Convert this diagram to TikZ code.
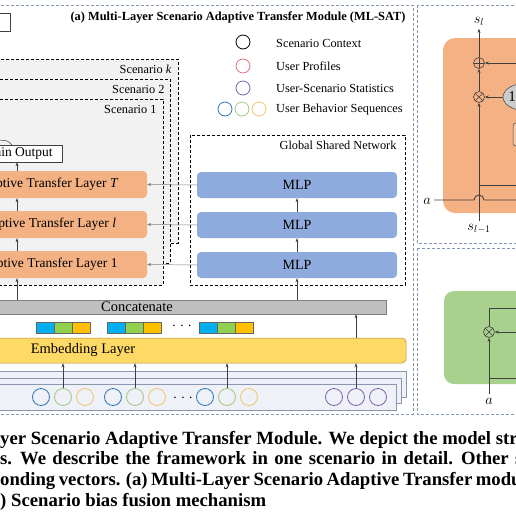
\documentclass[tikz,border=0pt]{standalone}
\usepackage{fontspec}
\setmainfont{Liberation Serif}
\usetikzlibrary{arrows.meta,positioning,shapes.geometric,calc}
\definecolor{layerorange}{HTML}{F4B183}
\definecolor{mlpblue}{HTML}{8FAADC}
\definecolor{concatgray}{HTML}{BFBFBF}
\definecolor{embedyellow}{HTML}{FFD966}
\definecolor{embedline}{HTML}{B08A2E}
\definecolor{cellblue}{HTML}{00B0F0}
\definecolor{cellgreen}{HTML}{92D050}
\definecolor{cellyellow}{HTML}{FFC000}
\definecolor{scenariogray}{HTML}{F2F2F2}
\definecolor{panelline}{HTML}{8497B0}
\definecolor{fusiongreen}{HTML}{A9D18E}
\definecolor{stackfill}{HTML}{EEF1F8}
\definecolor{stackline}{HTML}{8C97AD}
\definecolor{profilered}{HTML}{E0707F}
\definecolor{statpurple}{HTML}{7F62A6}
\definecolor{seqblue}{HTML}{2E75B6}
\definecolor{seqgreen}{HTML}{A9C47F}
\definecolor{seqyellow}{HTML}{F2C46B}
\definecolor{linedark}{HTML}{404040}
\definecolor{linegray}{HTML}{7F7F7F}
\newcommand{\legendfont}{\fontsize{12.3}{14}\selectfont}
\newcommand{\layerfont}{\fontsize{13.5}{15}\selectfont}
\newcommand{\barfont}{\fontsize{14.5}{16}\selectfont}
\newcommand{\capfont}{\fontsize{18.7}{21}\selectfont\bfseries}

\begin{document}
\begin{tikzpicture}[x=1pt, y=-1pt,
    arr/.style={-{Stealth[length=4pt,width=3pt]}, linedark, line width=0.5pt},
    scenbox/.style={draw=black, fill=scenariogray, dash pattern=on 3pt off 2pt, line width=0.7pt},
    panelbox/.style={draw=panelline, dash pattern=on 3pt off 2pt, line width=0.7pt},
    layerbox/.style={rectangle, rounded corners=4pt, fill=layerorange, minimum width=202pt, minimum height=27pt, inner sep=0pt, font=\layerfont},
    mlpbox/.style={rectangle, rounded corners=4pt, fill=mlpblue, minimum width=200pt, minimum height=26pt, inner sep=0pt, font=\fontsize{14}{16}\selectfont},
    legcircle/.style={circle, minimum size=14pt, inner sep=0pt, line width=0.8pt},
    incircle/.style={circle, minimum size=17pt, inner sep=0pt, line width=0.8pt},
    opnode/.style={circle, draw=linedark, minimum size=11pt, inner sep=0pt, line width=0.6pt,
        path picture={\draw[linedark, line width=0.6pt] (path picture bounding box.north) -- (path picture bounding box.south)
            (path picture bounding box.west) -- (path picture bounding box.east);}},
    otnode/.style={circle, draw=linedark, minimum size=11pt, inner sep=0pt, line width=0.6pt,
        path picture={\draw[linedark, line width=0.6pt] (path picture bounding box.north west) -- (path picture bounding box.south east)
            (path picture bounding box.north east) -- (path picture bounding box.south west);}},
    capnode/.style={anchor=base west, inner sep=0pt, font=\capfont}]
    \useasboundingbox (0,0) rectangle (516,517);
    \clip (0,0) rectangle (516,517);

    % Panel frames
    \draw[panelbox] (-10,5) rectangle (413,414);
    \draw[panelbox] (417,5) rectangle (530,243);
    \draw[panelbox] (417,248) rectangle (530,414);

    % Title
    \node[font=\fontsize{12.4}{14}\selectfont\bfseries] (title) at (238,17) {(a) Multi-Layer Scenario Adaptive Transfer Module (ML-SAT)};
    \node[draw=linedark, fill=white, minimum width=40pt, minimum height=18pt] (predbox) at (-10,22) {};

    % Legend
    \node[legcircle, draw=black] (legctx) at (243,42) {};
    \node[legcircle, draw=profilered] (legprof) at (243,66) {};
    \node[legcircle, draw=statpurple] (legstat) at (243,88) {};
    \node[legcircle, draw=seqblue] (legseqa) at (225,109) {};
    \node[legcircle, draw=seqgreen] (legseqb) at (242,109) {};
    \node[legcircle, draw=seqyellow] (legseqc) at (259,109) {};
    \foreach \y/\t in {43/Scenario Context, 66/User Profiles, 88/User-Scenario Statistics, 110/User Behavior Sequences}
        \node[anchor=west, inner sep=0pt, font=\legendfont] at (276,\y) {\t};

    % Scenario stacks
    \draw[scenbox] (-60,59) rectangle (178,243);
    \draw[scenbox] (-60,79) rectangle (170,263);
    \draw[scenbox] (-60,99) rectangle (163,285);
    \node[anchor=east, font=\legendfont] (labk) at (175,69) {Scenario \textit{k}};
    \node[anchor=east, font=\legendfont] (lab2) at (168,89) {Scenario 2};
    \node[anchor=east, font=\legendfont] (lab1) at (160,109) {Scenario 1};

    % Adaptive transfer layers
    \node[draw=linedark, fill=white, minimum width=88pt, minimum height=17pt, inner sep=0pt, font=\layerfont] (mainout) at (18,153.5) {Main Output};
    \coordinate (outlink) at (-4,140);
    \draw[linedark, line width=0.5pt] (12,145) .. controls (8,140.5) .. (outlink);
    \node[layerbox] (layerT) at (46,184.5) {Adaptive Transfer Layer \textit{T}};
    \node[layerbox] (layerl) at (46,224.5) {Adaptive Transfer Layer \textit{l}};
    \node[layerbox] (layer1) at (46,264.5) {Adaptive Transfer Layer 1};

    % Global shared network
    \draw[draw=black, fill=white, dash pattern=on 3pt off 2pt, line width=0.7pt] (190,135) rectangle (405,285);
    \node[anchor=east, font=\legendfont] (gsn) at (400,145) {Global Shared Network};
    \node[mlpbox] (mlpT) at (297,185) {MLP};
    \node[mlpbox] (mlpl) at (297,225) {MLP};
    \node[mlpbox] (mlp1) at (297,265) {MLP};

    % Concatenate and embedding
    \node[fill=concatgray, draw=linegray, line width=0.4pt, minimum width=498pt, minimum height=14pt, inner sep=0pt, font=\barfont] (concat) at (137,307) {Concatenate};
    \foreach \gx in {36,107,199} {
        \foreach \c [count=\i from 0] in {cellblue,cellgreen,cellyellow}
            \draw[fill=\c, draw=linedark!80, line width=0.4pt] (\gx+18*\i,322) rectangle ++(18,11);
    }
    \node[font=\layerfont] (celldots) at (182,326) {. . .};
    \node[fill=embedyellow, draw=embedline, line width=0.5pt, rounded corners=4pt, minimum width=646pt, minimum height=25pt, inner sep=0pt, font=\barfont] (embed) at (83,350.5) {Embedding Layer};

    % Input features
    \draw[fill=stackfill, draw=stackline, line width=0.6pt] (-10,371) rectangle (406,397);
    \draw[fill=stackfill, draw=stackline, line width=0.6pt] (-10,378) rectangle (401,403);
    \draw[fill=stackfill, draw=stackline, line width=0.6pt] (-10,384) rectangle (396,410);
    \foreach \gx [count=\g] in {41,113,205} {
        \node[incircle, draw=seqblue] (blue\g) at (\gx,397) {};
        \node[incircle, draw=seqgreen] (green\g) at (\gx+22,397) {};
        \node[incircle, draw=seqyellow] (yellow\g) at (\gx+44,397) {};
    }
    \foreach \px [count=\p] in {334,356,378}
        \node[incircle, draw=statpurple] (purple\p) at (\px,397) {};
    \node[font=\layerfont] (indots) at (183,398) {. . .};

    % Connections
    \foreach \n in {green1,green2,green3,purple2}
        \draw[arr] (\n.north) -- (\n.north |- embed.south);
    \draw[arr] (purple2 |- embed.north) -- (purple2 |- concat.south);
    \coordinate (spine) at (17,0);
    \draw[arr] (spine |- concat.north) -- (spine |- layer1.south);
    \draw[arr] (spine |- layer1.north) -- (spine |- layerl.south);
    \draw[arr] (spine |- layerl.north) -- (spine |- layerT.south);
    \draw[arr] (spine |- layerT.north) -- (spine |- mainout.south);
    \draw[arr] (mlp1 |- concat.north) -- (mlp1.south);
    \draw[arr] (mlp1.north) -- (mlpl.south);
    \draw[arr] (mlpl.north) -- (mlpT.south);
    \foreach \m/\l in {mlp1/layer1, mlpl/layerl, mlpT/layerT}
        \draw[arr, linegray] (\m.west) -- (\l.east);

    % (b) adaptive transfer cell
    \draw[fill=layerorange, draw=none, rounded corners=12pt] (443,38) rectangle (560,213);
    \draw[fill=layerorange!70!white, draw=linedark, line width=0.5pt, rounded corners=3pt] (513,123) rectangle (560,146);
    \node[font=\fontsize{14}{16}\selectfont] (sl) at (479,21) {$s_l$};
    \node[font=\fontsize{14}{16}\selectfont] (slprev) at (479,229) {$s_{l-1}$};
    \node[font=\fontsize{14}{16}\selectfont] (ain) at (427,201) {$a$};
    \node[opnode] (oplus) at (479,63) {};
    \node[otnode] (otimes) at (479,97) {};
    \node[ellipse, fill=gray!40, draw=linedark, line width=0.5pt, minimum width=48pt, minimum height=28pt] (gate) at (527,97) {};
    \node[font=\fontsize{15}{17}\selectfont] (gateone) at (512,97) {1};
    \coordinate (bin) at (520,63);
    \coordinate (bout) at (520,200);
    \coordinate (bsplit) at (520,185);
    \draw[arr] (slprev.north) -- (otimes.south);
    \draw[arr] (otimes.north) -- (oplus.south);
    \draw[arr] (oplus.north) -- (sl.south);
    \draw[arr] (bin) -- (oplus.east);
    \draw[arr] (gate.west) -- (otimes.east);
    \draw[linedark, line width=0.5pt] (otimes |- bsplit) -- (bsplit);
    \draw[linedark, line width=0.9pt] (ain.east |- bout) -- (474,200) arc[start angle=180, end angle=0, radius=5pt] -- (bout);

    % (c) scenario bias fusion
    \draw[fill=fusiongreen, draw=none, rounded corners=10pt] (444,291) rectangle (560,384);
    \node[otnode] (otimesc) at (489,332) {};
    \node[font=\fontsize{14}{16}\selectfont] (ac) at (489,401) {$a$};
    \coordinate (cin) at (520,332);
    \coordinate (cout) at (520,308);
    \coordinate (csplit) at (520,378);
    \draw[arr] (ac.north) -- (otimesc.south);
    \draw[arr] (cin) -- (otimesc.east);
    \draw[linedark, line width=0.5pt] (otimesc.north) |- (cout);
    \draw[linedark, line width=0.5pt] (otimesc |- csplit) -- (csplit);

    % Caption
    \node[capnode] (cap1) at (0,444) {\llap{Multi-La}yer Scenario Adaptive Transfer Module. We depict the model structure};
    \node[capnode] (cap2) at (0,464) {\spaceskip=6.4pt\llap{scenario}s. We describe the framework in one scenario in detail. Other scenarios};
    \node[capnode] (cap3) at (0,485) {\spaceskip=3.6pt\llap{corresp}onding vectors. (a) Multi-Layer Scenario Adaptive Transfer module};
    \node[capnode] (cap4) at (0,506) {\llap{(c}) Scenario bias fusion mechanism};
\end{tikzpicture}
\end{document}
